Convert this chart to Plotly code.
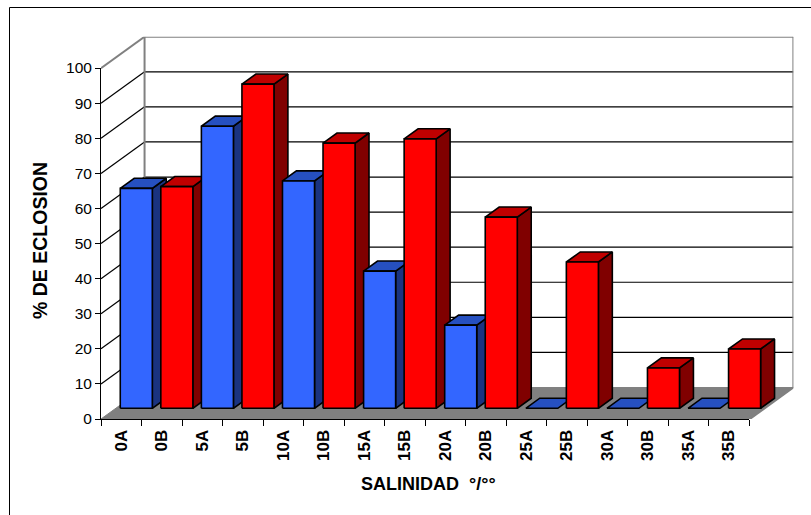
import plotly.graph_objects as go

categories = ["0A", "0B", "5A", "5B", "10A", "10B", "15A", "15B",
              "20A", "20B", "25A", "25B", "30A", "30B", "35A", "35B"]
eclosion = [62.7, 63.2, 80.4, 92.4, 64.8, 75.6, 39.1, 76.8,
            23.7, 54.5, 0, 41.7, 0, 11.5, 0, 16.9]
y_ticks = list(range(0, 101, 10))

W, H = 811, 515
FONT = "Liberation Sans, Arial, sans-serif"
# oblique projection of the 3-D box, in data units per unit of depth
DX = 43.5 / 40.5
DY = 31.5 / 3.51
BAR_FRONT, BAR_BACK = 0.34, 0.66
BAR_MARGIN, BAR_WIDTH = 0.11, 0.79
N = len(categories)
GRAY = "#808080"
COLORS = {"A": ("#3366FF", "#2650C0", "#1A3380"),
          "B": ("#FF0000", "#C00000", "#800000")}


def proj(x, v, d):
    return x + DX * d, v + DY * d


def poly(points, fill=None, line="#000000", width=1.6):
    xs, ys = zip(*points)
    return go.Scatter(x=list(xs), y=list(ys), mode="lines",
                      fill="toself" if fill else None, fillcolor=fill,
                      line=dict(color=line, width=width), hoverinfo="skip",
                      showlegend=False, xaxis="x", yaxis="y")


def segments(pairs, color, width):
    xs, ys = [], []
    for a, b in pairs:
        xs += [a[0], b[0], None]
        ys += [a[1], b[1], None]
    return go.Scatter(x=xs, y=ys, mode="lines", line=dict(color=color, width=width),
                      hoverinfo="skip", showlegend=False, xaxis="x", yaxis="y")


fig = go.Figure()

# floor
fig.add_trace(poly([proj(0, 0, 0), proj(0, 0, 1), proj(N, 0, 1), proj(N, 0, 0), proj(0, 0, 0)],
                   fill=GRAY, line=GRAY, width=1))
# gridlines on the walls
inner = [v for v in y_ticks if 0 < v < 100]
fig.add_trace(segments([(proj(0, v, 1), proj(N, v, 1)) for v in inner]
                       + [(proj(0, v, 0), proj(0, v, 1)) for v in inner], "#000000", 1.2))
# wall edges
fig.add_trace(segments([(proj(0, 0, 1), proj(0, 100, 1)),
                        (proj(0, 100, 1), proj(N, 100, 1)),
                        (proj(N, 100, 1), proj(N, 0, 1)),
                        (proj(0, 100, 0), proj(0, 100, 1)),
                        (proj(N, 0, 0), proj(N, 0, 1))], GRAY, 2))

# bars, painted from left to right
for i, (cat, val) in enumerate(zip(categories, eclosion)):
    front, top, side = COLORS[cat[-1]]
    x0, x1 = i + BAR_MARGIN, i + BAR_MARGIN + BAR_WIDTH
    if val > 0:
        fig.add_trace(poly([proj(x1, 0, BAR_FRONT), proj(x1, 0, BAR_BACK), proj(x1, val, BAR_BACK),
                            proj(x1, val, BAR_FRONT), proj(x1, 0, BAR_FRONT)], fill=side))
    fig.add_trace(poly([proj(x0, val, BAR_FRONT), proj(x0, val, BAR_BACK), proj(x1, val, BAR_BACK),
                        proj(x1, val, BAR_FRONT), proj(x0, val, BAR_FRONT)], fill=top))
    if val > 0:
        fig.add_trace(poly([proj(x0, 0, BAR_FRONT), proj(x0, val, BAR_FRONT), proj(x1, val, BAR_FRONT),
                            proj(x1, 0, BAR_FRONT), proj(x0, 0, BAR_FRONT)], fill=front))

# invisible series that carries the labelled category axis
fig.add_trace(go.Bar(x=categories, y=eclosion, xaxis="x2", yaxis="y2", opacity=0,
                     hoverinfo="skip", showlegend=False))

fig.update_layout(
    width=W, height=H, margin=dict(l=0, r=0, t=0, b=0),
    paper_bgcolor="white", plot_bgcolor="rgba(0,0,0,0)",
    font=dict(family=FONT, color="#000000"),
    xaxis=dict(domain=[101 / W, 793.4 / W], range=[0, N + DX], visible=False, automargin=False),
    yaxis=dict(domain=[(H - 419) / H, (H - 36.7) / H], range=[0, 100 + DY], visible=False, automargin=False),
    xaxis2=dict(domain=[101 / W, 749 / W], anchor="y2", type="category", automargin=False,
                categoryorder="array", categoryarray=categories, range=[-0.5, N - 0.5],
                tickson="boundaries", ticks="outside", ticklen=6, tickcolor="#000000",
                ticklabelstandoff=3,
                showline=True, linecolor="#000000", linewidth=1, showgrid=False, zeroline=False,
                tickangle=-90, tickfont=dict(family=FONT, size=17, color="#000000", weight="bold")),
    yaxis2=dict(domain=[(H - 419) / H, (H - 68) / H], anchor="x2", range=[0, 100], automargin=False,
                tickvals=y_ticks, ticks="outside", ticklen=5, tickcolor="#000000",
                showline=True, linecolor="#000000", linewidth=1, showgrid=False, zeroline=False,
                tickfont=dict(family=FONT, size=15.5, color="#000000")),
    annotations=[
        dict(text="<b>% DE ECLOSION</b>", xref="paper", yref="paper", x=40 / W, y=(H - 241) / H,
             textangle=-90, showarrow=False, xanchor="center", yanchor="middle",
             font=dict(family=FONT, size=19.5)),
        dict(text="<b>SALINIDAD  °/°°</b>", xref="paper", yref="paper", x=428.5 / W, y=(H - 484) / H,
             showarrow=False, xanchor="center", yanchor="middle", font=dict(family=FONT, size=18)),
    ],
    shapes=[dict(type="path", xref="paper", yref="paper",
                 path=f"M {9.5 / W} 0 L {9.5 / W} {(H - 7.5) / H} L 1 {(H - 7.5) / H}",
                 line=dict(color="#000000", width=1))],
)

fig.write_html("out.html", config={"responsive": False, "displayModeBar": False},
               default_width=W, default_height=H,
               post_script="document.body.style.margin='0';document.body.style.overflow='hidden';")
